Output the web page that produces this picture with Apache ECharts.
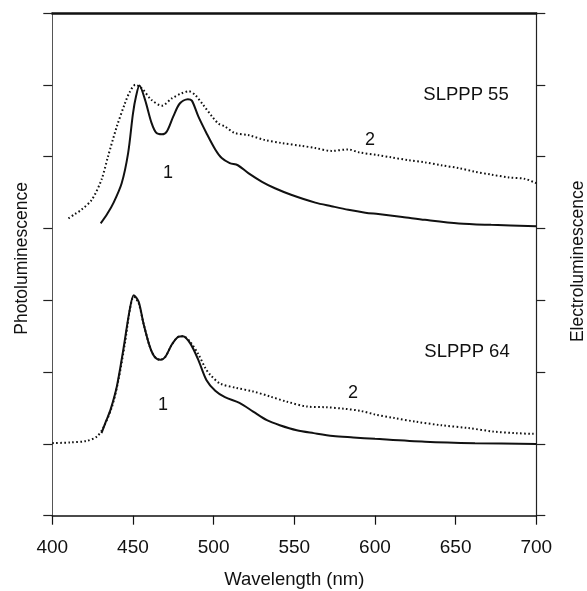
<!DOCTYPE html>
<html>
<head>
<meta charset="utf-8">
<script src="https://cdn.jsdelivr.net/npm/echarts@6/dist/echarts.min.js"></script>
<style>
html,body{margin:0;padding:0;background:#fff;}
#chart{width:587px;height:591px;}
</style>
</head>
<body>
<div id="chart"></div>
<script>
// X-axis ticks (nm)
const xTicks = [400, 450, 500, 550, 600, 650, 700];

// SLPPP 55, curve 1 (solid)
const s55c1Wl = [430, 434, 438, 443, 447, 450, 452, 454, 457.5, 461.5, 464.5, 468, 471, 475, 479, 484, 486.5, 490.5, 495.5, 501, 505, 510, 515, 521.5, 530, 538, 548, 563, 573, 583.5, 594, 602, 617, 631, 652, 672, 700];
const s55c1Val = [4.07, 4.2, 4.36, 4.63, 5.05, 5.6, 5.85, 5.99, 5.79, 5.47, 5.33, 5.31, 5.35, 5.56, 5.74, 5.80, 5.78, 5.56, 5.33, 5.10, 4.98, 4.91, 4.88, 4.77, 4.65, 4.56, 4.47, 4.36, 4.31, 4.26, 4.22, 4.20, 4.16, 4.12, 4.07, 4.05, 4.03];

// SLPPP 55, curve 2 (dotted)
const s55c2Wl = [410, 414, 418, 424.5, 430.5, 434.5, 440, 445, 448, 451.5, 455.5, 461.5, 468, 474, 480, 484.5, 488.5, 493.5, 499, 503, 507, 513, 521.5, 532, 542, 554.5, 563, 573, 583.5, 590, 602, 610, 621, 631, 641, 652, 662, 672, 683, 693, 700];
const s55c2Val = [4.14, 4.2, 4.26, 4.40, 4.68, 5.0, 5.42, 5.74, 5.9, 6.0, 5.95, 5.79, 5.71, 5.81, 5.88, 5.91, 5.86, 5.72, 5.56, 5.46, 5.42, 5.33, 5.30, 5.23, 5.19, 5.15, 5.12, 5.08, 5.10, 5.06, 5.02, 4.99, 4.95, 4.92, 4.88, 4.84, 4.79, 4.75, 4.71, 4.69, 4.63];

// SLPPP 64, curve 1 (solid)
const s64c1Wl = [430.5, 433, 436, 440, 444, 448, 450.5, 453.5, 456.5, 460.5, 463.5, 467, 470, 474, 478, 481, 485.5, 490.5, 495.5, 501, 507, 516, 524.5, 533, 541, 551.5, 562, 574, 586.5, 600, 631, 662, 700];
const s64c1Val = [1.15, 1.3, 1.47, 1.80, 2.31, 2.87, 3.07, 2.98, 2.68, 2.35, 2.21, 2.17, 2.21, 2.38, 2.49, 2.50, 2.40, 2.17, 1.89, 1.74, 1.65, 1.57, 1.45, 1.33, 1.26, 1.19, 1.15, 1.11, 1.09, 1.07, 1.03, 1.01, 1.00];

// SLPPP 64, curve 2 (dotted)
const s64c2Wl = [400, 411, 421, 427.5, 431.5, 437, 441, 445, 448, 450.5, 453.5, 456.5, 460.5, 463.5, 467, 470, 474, 478, 481, 485.5, 490.5, 495, 498, 504, 514, 524.5, 535, 545, 558, 570, 580.5, 591, 600, 612, 625, 641, 658, 674, 687, 698, 700];
const s64c2Val = [1.01, 1.02, 1.04, 1.10, 1.22, 1.52, 1.89, 2.40, 2.86, 3.05, 2.96, 2.68, 2.35, 2.21, 2.17, 2.21, 2.38, 2.49, 2.50, 2.42, 2.25, 2.05, 1.96, 1.84, 1.78, 1.73, 1.66, 1.59, 1.52, 1.51, 1.49, 1.46, 1.41, 1.36, 1.31, 1.26, 1.22, 1.17, 1.15, 1.14, 1.14];

const pairs = (xs, ys) => xs.map((x, i) => [x, ys[i]]);

const FONT = '"Liberation Sans", Arial, sans-serif';
const INK = '#111';

const solid = { color: INK, width: 2, type: 'solid' };
const dotted = { color: INK, width: 2, type: [1.6, 2.4], cap: 'butt' };

function lineSeries(name, data, style) {
  return {
    name, type: 'line', data, showSymbol: false, smooth: 0.3,
    lineStyle: style, itemStyle: { color: INK }, silent: true, z: 3
  };
}

const yAxisBase = {
  type: 'value', min: 0, max: 7, interval: 1,
  axisLabel: { show: false },
  splitLine: { show: false },
  axisTick: { show: true, inside: false, length: 9, lineStyle: { color: '#222', width: 1.2 } },
  nameLocation: 'middle', nameRotate: 90
};

const chart = echarts.init(document.getElementById('chart'), null, { renderer: 'canvas' });
chart.setOption({
  animation: false,
  backgroundColor: '#fff',
  grid: { left: 52.3, right: 50.7, top: 13, bottom: 75.3, containLabel: false, outerBoundsMode: 'none' },
  xAxis: [{
    type: 'value', min: 400, max: 700, interval: 50,
    axisLine: { show: true, onZero: false, lineStyle: { color: INK, width: 1.5 } },
    axisTick: { show: true, inside: false, length: 9, lineStyle: { color: INK, width: 1.2 } },
    axisLabel: { fontFamily: FONT, fontSize: 19, color: INK, margin: 23,
      formatter: v => xTicks.includes(v) ? String(v) : '' },
    splitLine: { show: false },
    name: 'Wavelength (nm)', nameLocation: 'middle', nameGap: 55,
    nameTextStyle: { fontFamily: FONT, fontSize: 18.5, color: INK }
  }, {
    type: 'value', min: 400, max: 700, position: 'top',
    axisLine: { show: true, onZero: false, lineStyle: { color: INK, width: 2.5 } },
    axisTick: { show: false }, axisLabel: { show: false }, splitLine: { show: false }
  }],
  yAxis: [
    Object.assign({}, yAxisBase, {
      position: 'left', name: 'Photoluminescence', nameGap: 21,
      nameTextStyle: { fontFamily: FONT, fontSize: 17.5, color: INK, padding: [0, 0, 0, 12] },
      axisLine: { show: true, onZero: false, lineStyle: { color: '#555', width: 1 } }
    }),
    Object.assign({}, yAxisBase, {
      position: 'right', name: 'Electroluminescence', nameGap: 33,
      nameTextStyle: { fontFamily: FONT, fontSize: 17.5, color: INK, padding: [0, 0, 0, 6] },
      axisLine: { show: true, onZero: false, lineStyle: { color: '#222', width: 1.2 } }
    })
  ],
  series: [
    lineSeries('SLPPP 55 – 1', pairs(s55c1Wl, s55c1Val), solid),
    lineSeries('SLPPP 55 – 2', pairs(s55c2Wl, s55c2Val), dotted),
    lineSeries('SLPPP 64 – 1', pairs(s64c1Wl, s64c1Val), solid),
    lineSeries('SLPPP 64 – 2', pairs(s64c2Wl, s64c2Val), dotted)
  ],
  graphic: [
    { type: 'text', x: 466, y: 95, style: { text: 'SLPPP 55', font: '18.5px ' + FONT, fill: INK, textAlign: 'center', textVerticalAlign: 'middle' } },
    { type: 'text', x: 467, y: 352, style: { text: 'SLPPP 64', font: '18.5px ' + FONT, fill: INK, textAlign: 'center', textVerticalAlign: 'middle' } },
    { type: 'text', x: 168, y: 173, style: { text: '1', font: '18px ' + FONT, fill: INK, textAlign: 'center', textVerticalAlign: 'middle' } },
    { type: 'text', x: 163, y: 405, style: { text: '1', font: '18px ' + FONT, fill: INK, textAlign: 'center', textVerticalAlign: 'middle' } },
    { type: 'text', x: 370, y: 140, style: { text: '2', font: '18px ' + FONT, fill: INK, textAlign: 'center', textVerticalAlign: 'middle' } },
    { type: 'text', x: 353, y: 393, style: { text: '2', font: '18px ' + FONT, fill: INK, textAlign: 'center', textVerticalAlign: 'middle' } }
  ]
});
</script>
</body>
</html>
